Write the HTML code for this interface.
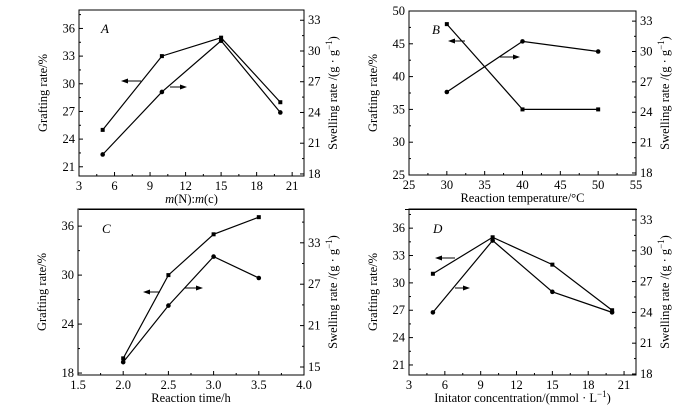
<!DOCTYPE html>
<html><head><meta charset="utf-8"><style>
body{margin:0;background:#fff;width:700px;height:415px;overflow:hidden}
svg{font-family:"Liberation Serif",serif;}
</style></head><body>
<svg id="c" width="700" height="415"></svg>
<script>
// Panel A
const aX=[5,10,15,20];
const aGraft=[25,33,35,28];
const aSwell=[19.9,26,31,24];
const aXTicks=[3,6,9,12,15,18,21];
const aYTicks=[21,24,27,30,33,36];
const aRTicks=[18,21,24,27,30,33];
// Panel B
const bX=[30,40,50];
const bGraft=[48,35,35];
const bSwell=[26,31,30];
const bXTicks=[25,30,35,40,45,50,55];
const bYTicks=[25,30,35,40,45,50];
const bRTicks=[18,21,24,27,30,33];
// Panel C
const cX=[2.0,2.5,3.0,3.5];
const cGraft=[19.8,30,35,37.1];
const cSwell=[15.7,23.9,31,27.9];
const cXTicks=[1.5,2.0,2.5,3.0,3.5,4.0];
const cYTicks=[18,24,30,36];
const cRTicks=[15,21,27,33];
// Panel D
const dX=[5,10,15,20];
const dGraft=[31,35,32,27];
const dSwell=[24,31,26,24];
const dXTicks=[3,6,9,12,15,18,21];
const dYTicks=[21,24,27,30,33,36];
const dRTicks=[18,21,24,27,30,33];

const NS="http://www.w3.org/2000/svg";
const svg=document.getElementById('c');
function mk(tag,attrs,parent,txt){const e=document.createElementNS(NS,tag);for(const k in attrs)e.setAttribute(k,attrs[k]);if(txt!==undefined)e.textContent=txt;(parent||svg).appendChild(e);return e;}

function panel(p){
  const g=mk('g',{});
  
  
  const sx=v=>p.l+(v-p.xr[0])/(p.xr[1]-p.xr[0])*(p.r-p.l);
  const sy=v=>p.b-(v-p.yr[0])/(p.yr[1]-p.yr[0])*(p.b-p.t);
  const sr=v=>p.b-(v-p.rr[0])/(p.rr[1]-p.rr[0])*(p.b-p.t);
  const box=mk('rect',{x:p.l,y:p.t,width:p.r-p.l,height:p.b-p.t,fill:'none',stroke:'#000','stroke-width':1},g);
  
  
  const xs=p.xt;
  const step=xs[1]-xs[0];
  xs.forEach((v,i)=>{
    const x=sx(v);
    mk('line',{x1:x,x2:x,y1:p.b,y2:p.b-4,stroke:'#000'},g);
    if(i<xs.length-1){const xm=sx(v+step/2);mk('line',{x1:xm,x2:xm,y1:p.b,y2:p.b-2,stroke:'#000'},g);}
    const t=mk('text',{x:x,y:p.b+14,'font-size':12.5,'text-anchor':'middle'},g,p.xf?p.xf(v):v);
    
    
  });
  const ys=p.yt,ystep=ys[1]-ys[0];
  ys.forEach((v,i)=>{
    const y=sy(v);
    mk('line',{x1:p.l,x2:p.l+4,y1:y,y2:y,stroke:'#000'},g);
    const ym=sy(v+ystep/2);if(ym>p.t)mk('line',{x1:p.l,x2:p.l+2,y1:ym,y2:ym,stroke:'#000'},g);
    const t=mk('text',{x:p.l-4,y:y+4,'font-size':12.5,'text-anchor':'end'},g,v);
    
    
  });
  const rs=p.rt,rstep=rs[1]-rs[0];
  rs.forEach((v,i)=>{
    const y=sr(v);
    mk('line',{x1:p.r,x2:p.r-4,y1:y,y2:y,stroke:'#000'},g);
    const ym=sr(v+rstep/2);if(ym>p.t)mk('line',{x1:p.r,x2:p.r-2,y1:ym,y2:ym,stroke:'#000'},g);
    const t=mk('text',{x:p.r+4,y:y+4,'font-size':12.5},g,v);
    
    
  });
  const gp=p.x.map((v,i)=>sx(v)+','+sy(p.g[i])).join(' ');
  const gl=mk('polyline',{points:gp,fill:'none',stroke:'#000','stroke-width':1.2},g);
  
  
  p.x.forEach((v,i)=>{const m=mk('rect',{x:sx(v)-2,y:sy(p.g[i])-2,width:4,height:4,fill:'#000'},g);
    
    });
  const sp=p.x.map((v,i)=>sx(v)+','+sr(p.s[i])).join(' ');
  const sl=mk('polyline',{points:sp,fill:'none',stroke:'#000','stroke-width':1.2},g);
  
  
  p.x.forEach((v,i)=>{const m=mk('circle',{cx:sx(v),cy:sr(p.s[i]),r:2.3,fill:'#000'},g);
    
    });
  const la=p.la,ra=p.ra;
  mk('line',{x1:la[0]+5,x2:la[1],y1:la[2],y2:la[2],stroke:'#000'},g);
  mk('polygon',{points:`${la[0]},${la[2]} ${la[0]+7},${la[2]-2.5} ${la[0]+7},${la[2]+2.5}`,fill:'#000'},g);
  mk('line',{x1:ra[0],x2:ra[1]-5,y1:ra[2],y2:ra[2],stroke:'#000'},g);
  mk('polygon',{points:`${ra[1]},${ra[2]} ${ra[1]-7},${ra[2]-2.5} ${ra[1]-7},${ra[2]+2.5}`,fill:'#000'},g);
  const lab=mk('text',{x:p.lab[0],y:p.lab[1],'font-size':13,'font-style':'italic'},g,p.id);
  
  
  const xt=mk('text',{x:(p.l+p.r)/2,y:p.b+27,'font-size':12.5,'text-anchor':'middle'},g);
  xt.innerHTML=p.xlab;
  
  
  const cy=(p.t+p.b)/2;
  const yt=mk('text',{x:0,y:0,'font-size':12.5,'text-anchor':'middle',transform:`translate(${p.l-32},${cy}) rotate(-90)`},g,'Grafting rate/%');
  
  
  const rt=mk('text',{x:0,y:0,'font-size':12.5,'text-anchor':'middle',transform:`translate(${p.r+33},${cy}) rotate(-90)`},g);
  rt.innerHTML='Swelling rate /(g · g<tspan dy="-5" font-size="9">−1</tspan><tspan dy="5">)</tspan>';
  
  
}
panel({id:'A',l:79,r:304,t:10,b:176,xr:[3,22],yr:[20,38],rr:[17.8,34],x:aX,g:aGraft,s:aSwell,xt:aXTicks,yt:aYTicks,rt:aRTicks,
  la:[121,141,81],ra:[170,187,87],lab:[101,33],xlab:'<tspan font-style="italic">m</tspan>(N):<tspan font-style="italic">m</tspan>(c)'});
panel({id:'B',l:409,r:636,t:11,b:175,xr:[25,55],yr:[25,50],rr:[17.8,34],x:bX,g:bGraft,s:bSwell,xt:bXTicks,yt:bYTicks,rt:bRTicks,
  la:[448,465,41],ra:[500,520,57],lab:[432,34],xlab:'Reaction temperature/°C'});
panel({id:'C',l:78,r:304,t:209,b:375,xr:[1.5,4.0],yr:[17.76,38.1],rr:[13.84,37.9],x:cX,g:cGraft,s:cSwell,xt:cXTicks,yt:cYTicks,rt:cRTicks,xf:v=>v.toFixed(1),
  la:[143,160,292],ra:[185,203,288],lab:[102,233],xlab:'Reaction time/h'});
panel({id:'D',l:409,r:636,t:209,b:375,xr:[3,22],yr:[19.9,38.1],rr:[17.9,34.07],x:dX,g:dGraft,s:dSwell,xt:dXTicks,yt:dYTicks,rt:dRTicks,
  la:[435,455,258],ra:[455,470,288],lab:[433,233],xlab:'Initator concentration/(mmol · L<tspan dy="-5" font-size="9">−1</tspan><tspan dy="5">)</tspan>'});
const u1=mk('line',{x1:79,x2:304,y1:209.5,y2:209.5,stroke:'#000'});


const u2=mk('line',{x1:405,x2:637,y1:209.5,y2:209.5,stroke:'#000'});


</script>
</body></html>
